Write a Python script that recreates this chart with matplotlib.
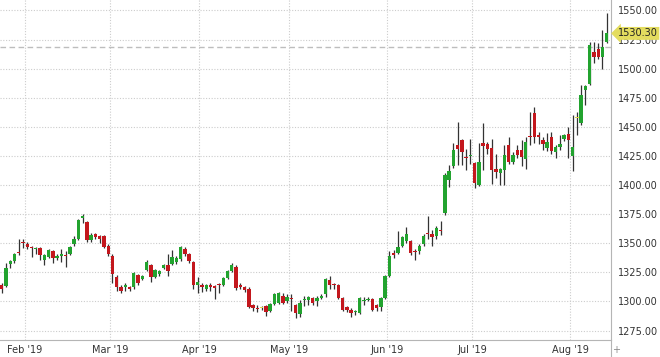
"""
    GOLD DAILY CANDLES, FEB - AUG 2019
"""
import numpy as np
import pandas as pd
import matplotlib
matplotlib.use("Agg")
from matplotlib import pyplot as plt
from matplotlib.lines import Line2D

# daily OHLC
opens = [1314, 1313, 1332, 1334.5, 1342.5, 1351, 1349, 1346.5, 1345, 1345.5,
         1335.5, 1338, 1343, 1337.5, 1339, 1340, 1341, 1349, 1354, 1372,
         1368, 1353, 1358, 1356.5, 1356, 1348, 1339, 1321, 1312, 1313,
         1312, 1312, 1323, 1319, 1327, 1331, 1321, 1323.5, 1329, 1331,
         1332, 1333.5, 1336.5, 1345, 1341, 1334, 1314.5, 1314, 1310.5, 1313.5,
         1313, 1314.5, 1314, 1320.5, 1326.5, 1329.5, 1313.5, 1312, 1310.5, 1297,
         1294.5, 1295, 1296, 1292, 1298, 1299, 1305, 1300, 1302.5, 1297,
         1289, 1301.5, 1301, 1303, 1300, 1303, 1306, 1318, 1314.5, 1314,
         1303, 1295, 1293, 1291, 1290, 1300, 1301, 1302, 1297, 1295,
         1303, 1322, 1342, 1342, 1348, 1352, 1352, 1343.5, 1343, 1349,
         1358.5, 1358, 1356, 1361.5, 1376, 1404, 1416, 1434, 1439, 1424,
         1425.5, 1419, 1400, 1436.5, 1435, 1431.5, 1414, 1410, 1413, 1434,
         1420, 1430, 1430, 1422, 1442, 1461.5, 1443, 1439, 1432, 1441,
         1428, 1433, 1440, 1444, 1425, 1458, 1453, 1482, 1487, 1514,
         1516.5, 1510, 1523]
highs = [1316, 1333, 1336, 1342, 1354, 1354, 1351, 1348, 1347, 1347,
         1341, 1345, 1344, 1341, 1345, 1343, 1348, 1356, 1371, 1375.5,
         1369, 1359, 1359, 1357, 1357, 1349, 1341, 1323, 1314, 1316,
         1313, 1325, 1324, 1323, 1336, 1332, 1328, 1327, 1332, 1341,
         1344, 1339, 1348, 1347, 1342, 1335, 1321, 1316, 1315, 1316,
         1314, 1316, 1321, 1327, 1333, 1331, 1316, 1313, 1312, 1298,
         1297, 1296, 1297, 1299, 1307, 1308, 1307, 1306, 1306, 1298,
         1301, 1305, 1305, 1304, 1305, 1306, 1320, 1321.5, 1316, 1315,
         1304, 1296, 1294, 1293, 1304, 1304, 1304, 1303, 1298, 1304,
         1323, 1343, 1344, 1360.5, 1356, 1364, 1353, 1345, 1349, 1358,
         1373, 1361, 1365, 1369, 1410, 1417, 1436, 1454, 1440, 1431,
         1440, 1420, 1436, 1453, 1437, 1440, 1427, 1415, 1434, 1441.5,
         1428, 1434, 1439, 1441.5, 1463, 1467, 1446, 1441, 1444.5, 1446,
         1434, 1443, 1444, 1450, 1460, 1463, 1486, 1486, 1523, 1523,
         1522, 1533, 1547.6]
lows = [1307, 1312, 1329, 1333, 1340, 1346, 1345, 1338, 1341, 1336,
        1331, 1337, 1333, 1336, 1334, 1330, 1340, 1348, 1353, 1367,
        1351, 1351, 1354, 1350, 1346, 1339, 1316, 1309, 1307, 1309,
        1309, 1311, 1314, 1318, 1326, 1317, 1320, 1322, 1328, 1322,
        1331, 1332, 1335, 1339, 1333, 1311, 1307, 1308, 1309, 1309,
        1302, 1307, 1313, 1319, 1325, 1310, 1311, 1308, 1294, 1292,
        1291, 1293, 1287.5, 1291, 1297, 1298, 1298, 1299, 1292, 1285.5,
        1287, 1296, 1297, 1297, 1296, 1302, 1304, 1311, 1311, 1302,
        1292, 1291, 1287, 1288, 1289, 1297, 1300, 1292, 1292, 1291.5,
        1302, 1321, 1337, 1341, 1347, 1350, 1340, 1336, 1341, 1348,
        1354, 1348, 1354, 1357, 1374, 1398, 1415, 1417, 1417, 1413,
        1418, 1397.5, 1399, 1413, 1427, 1401, 1406, 1400, 1400, 1418.5,
        1418, 1423, 1416, 1414, 1434, 1436, 1435, 1430, 1429.5, 1426.5,
        1423, 1430, 1438, 1423, 1412, 1443, 1452, 1469, 1486, 1505,
        1508, 1499.5, 1522]
closes = [1311, 1329, 1335, 1340.5, 1341.5, 1350, 1347, 1346, 1345.5, 1340,
          1339.5, 1344, 1337.5, 1339, 1341, 1339.5, 1347, 1354, 1370, 1373,
          1353, 1357.5, 1355.5, 1354, 1347, 1341, 1323.5, 1312, 1309, 1313.5,
          1310.5, 1324.5, 1315.5, 1322, 1334, 1321, 1327, 1326.5, 1331, 1326.5,
          1338, 1337, 1346.5, 1341, 1335, 1314.5, 1317, 1312, 1314, 1313,
          1311.5, 1314, 1320, 1326.5, 1331, 1311.5, 1313, 1310, 1295, 1294,
          1294, 1295, 1291, 1298, 1306.5, 1307, 1299, 1304, 1302, 1290,
          1299, 1302, 1304, 1299, 1303, 1305, 1319, 1314, 1314, 1303,
          1293, 1293, 1290, 1291.5, 1303, 1301, 1302, 1293, 1294, 1303,
          1322, 1339, 1340, 1346.5, 1355, 1358, 1342, 1343, 1348, 1356,
          1358, 1355, 1363, 1361, 1409, 1412, 1430, 1431, 1428, 1423.5,
          1426, 1401.5, 1420, 1433.5, 1431, 1413, 1411.5, 1414, 1426, 1420,
          1426, 1426, 1424, 1437, 1441.5, 1441.5, 1441, 1435, 1437, 1429,
          1433, 1435, 1443, 1439, 1433, 1458, 1477, 1485, 1520.5, 1510,
          1510, 1518.3, 1530.3]

# trading days (Good Friday closed)
dates = pd.bdate_range("2019-01-24", "2019-08-13")
dates = dates[dates != pd.Timestamp("2019-04-19")]

price_ticks = np.arange(1275, 1551, 25)

up_color = "#22a32f"
down_color = "#c3171d"
flat_color = "#e2d64c"
wick_color = "#333333"
grid_color = "#cccccc"
text_color = "#333333"

W, H = 660, 357
fig = plt.figure(figsize=(W / 100, H / 100), dpi=100)
ax = fig.add_axes([0, 17.5 / H, 611 / W, 339.5 / H])

o = np.array(opens)
h = np.array(highs)
l = np.array(lows)
c = np.array(closes)
x = np.arange(len(o))

colors = np.where(c > o, up_color, np.where(c < o, down_color, flat_color))
body_h = np.abs(c - o)
body_bottom = np.where(body_h < 1.0, (o + c) / 2 - 0.5, np.minimum(o, c))
body_h = np.maximum(body_h, 1.0)

ax.vlines(x, l, h, color=wick_color, linewidth=0.9, zorder=2)
ax.bar(x, body_h, bottom=body_bottom, width=0.8, color=colors, linewidth=0, zorder=3)

# previous close
ax.axhline(c[-2], color="#bdbdbd", linewidth=1, linestyle=(0, (4, 2.5)), zorder=1.5)

ax.set_xlim(-0.4, 143.0)
ax.set_ylim(1267.3, 1559.0)

# month boundaries
month_idx = [i for i in range(1, len(dates)) if dates[i].month != dates[i - 1].month]
ax.set_xticks([i - 0.6 for i in month_idx], [dates[i].strftime("%b '%y") for i in month_idx])
ax.set_yticks(price_ticks, [f"{p:.2f}" for p in price_ticks])
ax.yaxis.tick_right()
ax.tick_params(axis="both", length=0, labelsize=7, labelcolor=text_color)
ax.tick_params(axis="y", pad=5)
ax.tick_params(axis="x", pad=4)

ax.grid(True, color=grid_color, linestyle=(0, (1, 1.5)), linewidth=0.8)
ax.set_axisbelow(True)

for side in ["top", "left"]:
    ax.spines[side].set_visible(False)
for side in ["bottom", "right"]:
    ax.spines[side].set_color("#b5b5b5")
    ax.spines[side].set_linewidth(0.8)
fig.add_artist(Line2D([611 / W, 611 / W], [0, 17.5 / H], transform=fig.transFigure,
                      color="#b5b5b5", linewidth=0.8))
fig.text(616 / W, 1 - 350 / H, "+", fontsize=7, color="#888888", ha="center", va="center")

# last price tag
ax.text(1 + 7 / 611, c[-1], f"{c[-1]:.2f}", transform=ax.get_yaxis_transform(),
        ha="left", va="center", fontsize=7, color="#222222", zorder=6, clip_on=False,
        bbox=dict(boxstyle="larrow,pad=0.15", fc="#e3dc5f", ec="none"))

fig.savefig("out.png", dpi=100)
